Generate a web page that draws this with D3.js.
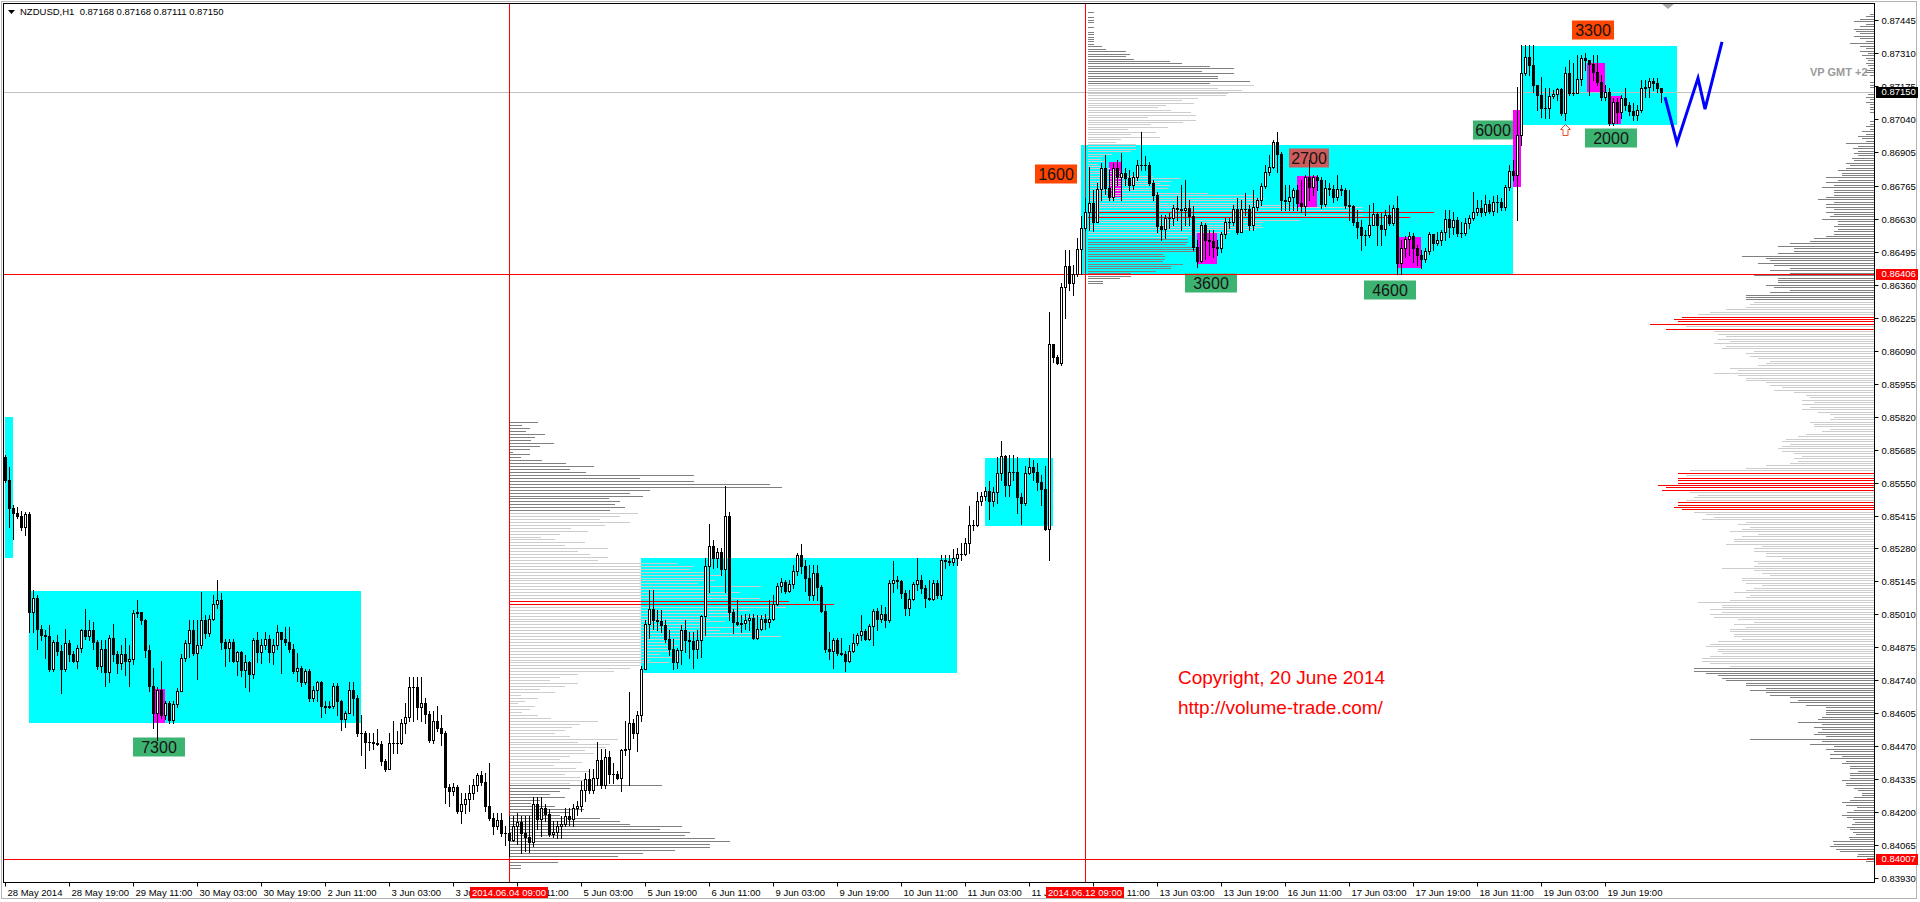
<!DOCTYPE html>
<html>
<head>
<meta charset="utf-8">
<style>
body { margin: 0; background: #fff; }
svg { display: block; }
text { font-family: "Liberation Sans", Arial, sans-serif; }
.header { font-size: 9.5px; white-space: pre; }
</style>
</head>
<body>
<div id="chart"></div>
<script src="https://cdn.jsdelivr.net/npm/d3@7"></script>
<script>
const width = 1920, height = 902;
const plot = { left: 3, top: 3, right: 1874, bottom: 882 };

// NZDUSD H1, 28 May 03:00 .. 20 Jun 09:00, prices in points (0.00001), open = previous close
const firstOpen = 85653;
const closes = [
85559,85444,85424,85411,85366,85420,85018,85079,84952,84924,
84920,84788,84895,84862,84788,84891,84846,84821,84874,84944,
84920,84948,84895,84800,84870,84772,84915,84846,84809,84846,
84821,84829,85014,85018,84985,84866,84718,84604,84702,84596,
84645,84579,84641,84698,84833,84891,84944,84850,84883,84989,
84932,84993,85051,85067,84895,84874,84895,84817,84854,84784,
84813,84764,84903,84854,84883,84911,84854,84883,84936,84911,
84895,84870,84780,84792,84731,84776,84669,84702,84731,84636,
84632,84636,84718,84657,84583,84608,84702,84669,84522,84522,
84489,84489,84485,84481,84411,84378,84485,84485,84485,84563,
84591,84714,84714,84632,84645,84600,84497,84575,84546,84526,
84304,84288,84304,84206,84235,84255,84280,84313,84354,84325,
84227,84177,84141,84169,84116,84116,84087,84145,84161,84116,
84100,84079,84235,84173,84218,84194,84112,84120,84141,84153,
84186,84173,84218,84223,84292,84337,84292,84341,84415,84309,
84424,84358,84358,84341,84456,84460,84563,84526,84596,84788,
84969,85034,84989,84981,84965,84911,84870,84813,84866,84944,
84903,84899,84870,84907,85002,85207,85289,85240,85264,85195,
85411,85018,84977,84969,84973,84989,84997,84915,84952,84993,
84977,84993,85051,85125,85141,85104,85133,85186,85252,85207,
85158,85088,85178,85121,85022,84870,84862,84903,84850,84846,
84821,84862,84891,84924,84940,84911,84961,85022,84993,85010,
84985,85137,85149,85145,85096,85038,85075,85133,85149,85117,
85079,85075,85137,85088,85231,85227,85223,85240,85256,85256,
85301,85375,85375,85473,85494,85514,85473,85510,85588,85657,
85539,85592,85592,85489,85465,85588,85612,85592,85551,85522,
85358,86117,86063,86039,86350,86436,86366,86403,86506,86592,
86658,86694,86617,86752,86838,86756,86719,86838,86801,86818,
86797,86769,86801,86850,86850,86850,86777,86728,86600,86588,
86633,86633,86674,86670,86666,86674,86641,86514,86457,86604,
86543,86539,86514,86510,86567,86617,86617,86670,86576,86670,
86670,86604,86678,86707,86764,86822,86842,86945,86896,86707,
86703,86719,86748,86694,86682,86801,86760,86801,86789,86691,
86756,86752,86719,86752,86748,86686,86682,86617,86596,86563,
86563,86604,86649,86604,86588,86645,86612,86674,86449,86510,
86547,86559,86510,86481,86465,86498,86567,86530,86543,86576,
86629,86596,86625,86572,86572,86612,86633,86658,86674,86658,
86691,86662,86699,86699,86678,86760,86826,86810,86973,87228,
87293,87260,87178,87137,87084,87084,87133,87141,87162,87064,
87228,87146,87146,87203,87289,87281,87264,87232,87191,87129,
87150,87023,87109,87068,87125,87096,87072,87056,87076,87166,
87170,87195,87187,87168,87150];
const highs = [
85661,85612,85457,85448,85432,85428,85428,85108,85088,84965,
84944,84965,84903,84924,84883,84952,84903,84862,84883,84952,
85030,84985,84977,84903,84903,84903,84924,84969,84862,84883,
84915,84883,85026,85067,85018,84993,84883,84792,84714,84821,
84657,84657,84657,84710,84846,84903,84985,84985,84985,85100,
85006,85006,85088,85149,85096,84911,84911,84911,84862,84862,
84842,84821,84915,84936,84911,84936,84924,84911,84965,84932,
84957,84957,84887,84850,84800,84788,84788,84718,84739,84739,
84657,84657,84727,84727,84661,84616,84735,84735,84678,84596,
84534,84526,84526,84542,84493,84419,84526,84575,84534,84583,
84645,84755,84755,84755,84755,84669,84616,84616,84636,84596,
84534,84317,84321,84313,84280,84280,84313,84337,84362,84370,
84362,84403,84198,84198,84198,84145,84186,84186,84198,84186,
84186,84186,84260,84260,84260,84235,84214,84165,84165,84186,
84218,84218,84235,84247,84329,84362,84378,84378,84489,84460,
84460,84452,84403,84370,84460,84575,84694,84583,84616,84800,
84985,85108,85108,85026,85026,84985,84944,84911,84874,84965,
84989,84936,84936,84944,85006,85240,85379,85313,85280,85280,
85534,85428,85034,85067,85006,85010,85010,85010,85006,85006,
85010,85067,85088,85137,85158,85149,85149,85211,85260,85297,
85231,85211,85211,85211,85129,85047,84936,84915,84915,84915,
84862,84883,84928,84932,85006,84952,84969,85034,85038,85047,
85042,85149,85227,85166,85149,85108,85108,85141,85240,85170,
85129,85149,85149,85149,85252,85252,85252,85276,85280,85301,
85322,85453,85395,85510,85510,85530,85555,85530,85653,85719,
85661,85661,85661,85653,85506,85616,85649,85641,85629,85580,
85616,86248,86113,86071,86366,86502,86502,86440,86551,86641,
86715,86842,86748,86777,86859,86891,86830,86859,86871,86900,
86838,86830,86822,86871,86986,86887,86863,86789,86740,86645,
86645,86654,86686,86723,86769,86789,86707,86682,86543,86617,
86612,86584,86584,86543,86576,86633,86633,86686,86715,86707,
86736,86686,86748,86715,86777,86850,86891,86953,86986,86904,
86769,86769,86756,86769,86789,86810,86871,86810,86810,86801,
86789,86777,86769,86810,86769,86756,86748,86686,86666,86625,
86584,86686,86694,86658,86654,86666,86686,86686,86723,86543,
86559,86576,86572,86522,86502,86510,86576,86563,86576,86584,
86666,86666,86658,86637,86617,86633,86645,86740,86707,86707,
86727,86707,86723,86727,86715,86769,86850,86871,87170,87342,
87342,87342,87342,87166,87211,87166,87166,87158,87166,87166,
87252,87281,87269,87301,87301,87310,87273,87301,87301,87219,
87178,87166,87125,87125,87137,87166,87109,87105,87096,87199,
87199,87207,87207,87207,87168];
const lows = [
85551,85366,85317,85403,85354,85334,84936,84936,84870,84903,
84833,84780,84780,84842,84686,84780,84821,84813,84792,84854,
84911,84903,84870,84788,84772,84718,84731,84821,84768,84788,
84760,84718,84805,85000,84969,84837,84698,84546,84497,84587,
84583,84567,84567,84632,84698,84821,84837,84842,84747,84874,
84915,84920,84985,85038,84870,84800,84821,84813,84760,84756,
84714,84698,84751,84813,84809,84870,84813,84805,84870,84768,
84883,84854,84768,84739,84718,84723,84657,84657,84657,84591,
84608,84628,84628,84596,84538,84550,84612,84596,84513,84432,
84382,84456,84460,84473,84391,84370,84378,84444,84444,84477,
84522,84575,84575,84583,84575,84563,84489,84485,84534,84473,
84239,84227,84268,84198,84157,84198,84206,84255,84288,84313,
84206,84169,84112,84132,84104,84067,84022,84083,84071,84034,
84042,84038,84063,84132,84104,84165,84104,84096,84092,84092,
84141,84149,84145,84190,84206,84247,84280,84280,84309,84300,
84300,84321,84321,84337,84288,84432,84313,84505,84452,84575,
84788,84915,84952,84944,84936,84895,84842,84788,84792,84805,
84854,84833,84792,84833,84837,84924,85100,85199,85203,85170,
85100,84985,84932,84965,84936,84952,84944,84911,84911,84944,
84952,84957,84985,85047,85100,85096,85100,85117,85170,85178,
85104,85067,85067,85067,85018,84854,84829,84792,84842,84842,
84780,84813,84854,84883,84903,84903,84903,84883,84944,84977,
84957,84977,85100,85117,85079,85006,85006,85067,85108,85096,
85042,85067,85067,85079,85075,85199,85211,85211,85211,85231,
85252,85260,85354,85371,85457,85477,85399,85453,85465,85559,
85497,85497,85559,85424,85379,85457,85584,85559,85518,85457,
85354,85231,86043,86035,86031,86223,86338,86317,86395,86403,
86584,86584,86580,86617,86707,86732,86707,86707,86769,86707,
86769,86748,86752,86789,86830,86830,86769,86707,86576,86543,
86551,86592,86604,86625,86584,86604,86604,86502,86432,86453,
86465,86481,86473,86481,86494,86551,86592,86604,86567,86604,
86645,86584,86584,86666,86686,86756,86810,86838,86822,86666,
86666,86666,86666,86666,86658,86645,86707,86727,86748,86674,
86682,86727,86699,86707,86727,86674,86625,86604,86551,86502,
86522,86555,86604,86522,86522,86563,86604,86604,86404,86404,
86473,86481,86453,86440,86428,86453,86485,86502,86522,86522,
86543,86555,86567,86559,86555,86563,86592,86625,86645,86641,
86645,86654,86645,86658,86666,86666,86748,86789,86625,86932,
87219,87219,87150,87076,87047,87043,87043,87125,87117,87056,
87035,87137,87137,87178,87178,87240,87137,87199,87178,87117,
87117,87014,87014,87023,87043,87076,87056,87035,87035,87068,
87129,87129,87158,87150,87111];

// time axis: a label every 16 bars
const timeTickBars = d3.range(0, 401, 16);
const timeTickLabels = ['28 May 2014','28 May 19:00','29 May 11:00','30 May 03:00','30 May 19:00','2 Jun 11:00',
  '3 Jun 03:00','3 Jun 19:00','4 Jun 11:00','5 Jun 03:00','5 Jun 19:00','6 Jun 11:00','9 Jun 03:00','9 Jun 19:00',
  '10 Jun 11:00','11 Jun 03:00','11 Jun 19:00','12 Jun 11:00','13 Jun 03:00','13 Jun 19:00','16 Jun 11:00',
  '17 Jun 03:00','17 Jun 19:00','18 Jun 11:00','19 Jun 03:00','19 Jun 19:00'];
const priceTicks = [0.87445,0.87310,0.87175,0.87040,0.86905,0.86765,0.86630,0.86495,0.86360,0.86225,0.86090,
  0.85955,0.85820,0.85685,0.85550,0.85415,0.85280,0.85145,0.85010,0.84875,0.84740,0.84605,0.84470,0.84335,
  0.84200,0.84065,0.83930];

// vertical session lines (bar index) and horizontal levels
const vLineBars = [126, 270];
const vLineLabels = ['2014.06.04 09:00', '2014.06.12 09:00'];
const hLevels = [0.86406, 0.84007];
const bidPrice = 0.87150;

// cyan balance zones: [from bar, to bar], [top, bottom] in points
const zoneBars = [[0, 2], [6, 89], [159, 238], [245, 262], [269, 377], [379, 418]];
const zonePrices = [[85817, 85243], [85104, 84563], [85243, 84768], [85649, 85374], [86933, 86404], [87338, 87015]];
// magenta volume bars
const spikeBars = [[37.25, 40], [276, 279], [298, 303], [323, 328], [348.25, 354], [377, 379], [395.5, 400], [401.25, 404]];
const spikePrices = [[84706, 84563], [86863, 86719], [86576, 86445], [86805, 86678], [86555, 86428], [87076, 86760], [87269, 87150], [87133, 87019]];

// volume labels
const volText = ['7300', '1600', '3600', '2700', '4600', '6000', '3300', '2000'];
const volBar = [38.5, 262.75, 301.5, 326, 346.25, 372, 397, 401.5];
const volPrice = [84466, 86816, 86367, 86879, 86338, 86996, 87406, 86963];
const volKind = ['buy', 'sell', 'buy', 'mid', 'buy', 'buyS', 'sell', 'buy'];

// forecast zigzag
const zigBars = [415, 418, 423.25, 425, 429.25];
const zigPrices = [87129, 86941, 87207, 87080, 87355];

// volume profile from 4 Jun 09:00 (rows every 12 points)
const profATop = 85797, profAStep = 12, profAVaHigh = 85428, profAVaLow = 84313, profARed = [61, 62];
const profAVols = [28,12,20,16,35,25,21,44,30,20, 3,20,11,32,56,84,60,76,184,130,
  184,260,272,140,120,133,99,110,105,115, 100,128,110,90,120,95,61,78,50,31,
  45,75,55,98,68,80,98,88,168,184, 180,200,211,194,205,188,251,200,230,220,
  250,279,324,276,240,225,260,200,215,194, 230,210,250,271,170,165,168,161,165,150,
  170,140,160,130,120,104,68,50,40,68, 55,30,45,11,28,15,8,25,20,12,
  28,41,88,70,62,55,45,60,108,68, 100,96,75,84,60,50,72,44,66,80,
  55,70,84,60,152,60,50,40,55,30, 21,45,74,60,50,90,110,120,172,150,
  180,175,205,220,200,200,165,133,108,96, 48,11,11];
// volume profile from 12 Jun 09:00 (rows every 10 points)
const profBTop = 87477, profBStep = 10, profBVaHigh = 87178, profBVaLow = 86551, profBRed = [82, 84];
const profBVols = [6,0,6,6,6,0,6,0,6,6, 6,6,6,6,14,18,38,42,38,46,
  82,94,122,146,114,146,130,130,162,122, 166,130,154,140,138,110,94,106,78,70,
  83,103,108,60,108,95,63,80,40,68, 43,72,33,28,48,48,48,43,24,15,
  13,17,10,13,22,32,35,65,92,83, 72,82,80,68,120,168,177,172,168,202,
  275,275,346,275,322,212,175,173,175,168, 142,108,100,100,100,98,108,108,108,75,
  77,77,75,95,83,83,68,43,43,32, 15,15];
// whole-range profile on the price scale (rows every 10 points)
const profCTop = 87470, profCStep = 10, profCVaHigh = 86293, profCVaLow = 84797;
const profCRed = [124,125,126,127,129,188,190,191,192,193,194,195,200,201,202,203];
const profCVols = [4,8,14,20,8,14,20,18,14,20, 14,8,24,14,8,14,6,12,8,6,
  8,6,4,8,10,4,0,0,4,4, 4,0,0,6,8,4,8,4,4,4, 4,0,0,0,4,4,8,4,12,8,
  16,12,8,28,16,21,16,20,16,22, 20,28,24,28,36,32,32,48,36,48,
  40,52,40,40,40,48,56,40,48,48, 40,48,40,44,52,36,36,40,36,40,
  40,48,60,64,84,96,80,80,96,132, 108,104,116,100,84,104,84,120,96,96,
  96,108,100,84,104,128,128,128,120,124, 128,148,164,176,192,200,196,224,188,208,
  160,156,148,156,144,160,148,152,120,128, 124,116,104,108,116,144,136,160,136,128,
  128,108,104,92,100,80,68,64,72,60, 72,64,72,56,44,40,44,64,60,60,
  44,52,68,76,88,92,84,92,96,92, 80,72,80,76,84,108,128,184,196,188,
  196,196,196,216,208,212,184,176,180,188, 196,196,200,192,180,168,160,172,128,136,
  124,132,144,116,132,140,140,148,112,120, 120,108,108,92,120,116,120,152,120,112,
  104,132,132,128,112,120,128,140,124,128, 144,176,152,152,164,152,164,160,136,120,
  140,128,144,144,140,140,132,156,164,168, 156,156,152,164,172,172,164,144,180,180,
  168,156,152,148,128,128,108,124,108,104, 84,76,84,68,48,48,48,48,52,56,
  76,52,60,52,56,60,48,124,52,64, 40,48,40,44,32,44,28,32,24,24,
  16,24,24,24,32,28,28,20,16,12, 12,20,24,32,28,17,20,27,32,27,
  21,19,22,27,24,21,18,25,24,41, 40,44,38,34,16,17,7,8];

const labelStyle = {
  buy: { fill: '#3cb371', w: 52 },
  buyS: { fill: '#3cb371', w: 40 },
  sell: { fill: '#ff4500', w: 42 },
  mid: { fill: '#cd5c5c', w: 40 }
};

const xScale = d3.scaleLinear().domain([0, closes.length - 1]).range([5, 1661]);
const yScale = d3.scaleLinear().domain([0.83930, 0.87445]).range([878, 20]);
const volX = d3.scaleLinear().domain([0, 100]).range([0, 100]);
const pt = v => v / 1e5;
const crisp = v => Math.round(v) + 0.5;

const svg = d3.select('#chart').append('svg').attr('width', width).attr('height', height);
svg.append('rect').attr('width', width).attr('height', height).attr('fill', '#fff');
svg.append('defs').append('clipPath').attr('id', 'plotclip').append('rect')
  .attr('x', plot.left).attr('y', plot.top)
  .attr('width', plot.right - plot.left).attr('height', plot.bottom - plot.top);

const g = svg.append('g').attr('clip-path', 'url(#plotclip)');

// cyan zones
g.append('g').selectAll('rect').data(zoneBars).join('rect')
  .attr('x', d => Math.round(xScale(d[0])))
  .attr('width', d => Math.round(xScale(d[1])) - Math.round(xScale(d[0])))
  .attr('y', (d, i) => Math.round(yScale(pt(zonePrices[i][0]))))
  .attr('height', (d, i) => Math.round(yScale(pt(zonePrices[i][1]))) - Math.round(yScale(pt(zonePrices[i][0]))))
  .attr('fill', '#00ffff');

// volume labels
const lab = g.append('g').selectAll('g').data(volText).join('g')
  .attr('transform', (d, i) => `translate(${Math.round(xScale(volBar[i]))},${Math.round(yScale(pt(volPrice[i])))})`);
lab.append('rect')
  .attr('x', (d, i) => -labelStyle[volKind[i]].w / 2).attr('y', -9.5)
  .attr('width', (d, i) => labelStyle[volKind[i]].w).attr('height', 19)
  .attr('fill', (d, i) => labelStyle[volKind[i]].fill);
lab.append('text').text(d => d)
  .attr('text-anchor', 'middle').attr('dy', '0.36em')
  .attr('font-size', 16).attr('fill', '#141414');

// magenta spikes
g.append('g').selectAll('rect').data(spikeBars).join('rect')
  .attr('x', d => Math.round(xScale(d[0])))
  .attr('width', d => Math.round(xScale(d[1])) - Math.round(xScale(d[0])))
  .attr('y', (d, i) => Math.round(yScale(pt(spikePrices[i][0]))))
  .attr('height', (d, i) => Math.round(yScale(pt(spikePrices[i][1]))) - Math.round(yScale(pt(spikePrices[i][0]))))
  .attr('fill', '#ff00ff');

// volume profiles
function drawProfile(top, step, vols, red, vaHigh, vaLow, x0, dir) {
  const rows = vols.map((v, k) => ({ k, p: top - k * step, v })).filter(d => d.v > 0);
  g.append('g').selectAll('line').data(rows).join('line')
    .attr('x1', x0).attr('x2', d => x0 + dir * volX(d.v))
    .attr('y1', d => crisp(yScale(pt(d.p)))).attr('y2', d => crisp(yScale(pt(d.p))))
    .attr('stroke-width', 1)
    .attr('stroke', d => red.includes(d.k) ? '#ff0000'
      : (d.p <= vaHigh && d.p >= vaLow ? '#cdcdcd' : '#808080'));
}
drawProfile(profATop, profAStep, profAVols, profARed, profAVaHigh, profAVaLow, Math.round(xScale(vLineBars[0])) + 1, 1);
drawProfile(profBTop, profBStep, profBVols, profBRed, profBVaHigh, profBVaLow, Math.round(xScale(vLineBars[1])) + 3, 1);
drawProfile(profCTop, profCStep, profCVols, profCRed, profCVaHigh, profCVaLow, plot.right, -1);

// bid line and red levels
g.append('line').attr('x1', plot.left).attr('x2', plot.right)
  .attr('y1', crisp(yScale(bidPrice))).attr('y2', crisp(yScale(bidPrice)))
  .attr('stroke', '#c0c0c0');
g.append('g').selectAll('line').data(hLevels).join('line')
  .attr('x1', plot.left).attr('x2', plot.right)
  .attr('y1', d => crisp(yScale(d))).attr('y2', d => crisp(yScale(d)))
  .attr('stroke', '#ff0000');
g.append('g').selectAll('line').data(vLineBars).join('line')
  .attr('x1', d => crisp(xScale(d))).attr('x2', d => crisp(xScale(d)))
  .attr('y1', plot.top).attr('y2', plot.bottom)
  .attr('stroke', '#ff0000');

// candles
const bars = closes.map((c, i) => {
  const o = i ? closes[i - 1] : firstOpen;
  return { i, o: pt(o), c: pt(c), h: pt(Math.max(highs[i], o, c)), l: pt(Math.min(lows[i], o, c)) };
});
const cg = g.append('g');
cg.selectAll('line').data(bars).join('line')
  .attr('x1', d => crisp(xScale(d.i))).attr('x2', d => crisp(xScale(d.i)))
  .attr('y1', d => Math.round(yScale(d.h))).attr('y2', d => Math.round(yScale(d.l)) + 1)
  .attr('stroke', '#000');
cg.selectAll('rect.bull').data(bars.filter(d => d.c > d.o)).join('rect').attr('class', 'bull')
  .attr('x', d => Math.round(xScale(d.i)) - 0.5)
  .attr('y', d => Math.round(yScale(d.c)) + 0.5)
  .attr('width', 2)
  .attr('height', d => Math.max(0, Math.round(yScale(d.o)) - Math.round(yScale(d.c))))
  .attr('fill', '#fff').attr('stroke', '#000');
cg.selectAll('rect.bear').data(bars.filter(d => d.c <= d.o)).join('rect').attr('class', 'bear')
  .attr('x', d => Math.round(xScale(d.i)) - 1)
  .attr('y', d => Math.round(yScale(d.o)))
  .attr('width', 3)
  .attr('height', d => Math.max(1, Math.round(yScale(d.c)) - Math.round(yScale(d.o)) + 1))
  .attr('fill', '#000');

// forecast zigzag
g.append('path')
  .datum(zigBars.map((b, i) => [xScale(b), yScale(pt(zigPrices[i]))]))
  .attr('d', d3.line())
  .attr('fill', 'none').attr('stroke', '#0000ff').attr('stroke-width', 3);

// small up arrow under the 19 Jun low
{
  const ax = Math.round(xScale(390)), ay = Math.round(yScale(0.87019));
  g.append('path')
    .attr('d', `M${ax + 0.5},${ay + 0.5} l5,5 h-2.5 v6 h-5 v-6 h-2.5 z`)
    .attr('fill', '#fff').attr('stroke', '#e8502a');
}

// copyright
g.append('text').text('Copyright, 20 June 2014')
  .attr('x', xScale(293.25)).attr('y', yScale(0.84723))
  .attr('font-size', 19).attr('fill', '#ff0000');
g.append('text').text('http://volume-trade.com/')
  .attr('x', xScale(293.25)).attr('y', yScale(0.84600))
  .attr('font-size', 19).attr('fill', '#ff0000');

g.append('text').text('VP GMT +2')
  .attr('x', plot.right - 64).attr('y', yScale(0.87215))
  .attr('font-size', 11).attr('font-weight', 'bold').attr('fill', '#9a9a9a');

// chart shift marker
g.append('path').attr('d', 'M1662,4 L1674,4 L1668,9 Z').attr('fill', '#a8a8a8');

// frames
svg.append('rect').attr('x', 1.5).attr('y', 1.5).attr('width', 1915).attr('height', 897)
  .attr('fill', 'none').attr('stroke', '#b4b4b4');
svg.append('rect').attr('x', plot.left + 0.5).attr('y', plot.top + 0.5)
  .attr('width', plot.right - plot.left).attr('height', plot.bottom - plot.top)
  .attr('fill', 'none').attr('stroke', '#000');

// price axis
const yAxis = svg.append('g').attr('transform', `translate(${plot.right + 0.5},0)`)
  .call(d3.axisRight(yScale).tickValues(priceTicks).tickSize(4).tickSizeOuter(0).tickFormat(d3.format('.5f')));
yAxis.select('.domain').remove();
yAxis.attr('font-family', '"Liberation Sans", Arial, sans-serif').attr('font-size', 9.5);
yAxis.selectAll('.tick line').attr('y1', 0).attr('y2', 0);
yAxis.selectAll('.tick').attr('transform', d => `translate(0,${crisp(yScale(d))})`);

// time axis
const xAxis = svg.append('g').attr('transform', `translate(0,${plot.bottom + 0.5})`)
  .call(d3.axisBottom(xScale).tickValues(timeTickBars).tickSize(4).tickSizeOuter(0)
    .tickFormat((d, i) => timeTickLabels[i]));
xAxis.select('.domain').remove();
xAxis.attr('font-family', '"Liberation Sans", Arial, sans-serif').attr('font-size', 9.5);
xAxis.selectAll('.tick').attr('transform', d => `translate(${crisp(xScale(d))},0)`);
xAxis.selectAll('.tick text').attr('text-anchor', 'start').attr('x', 2);

// highlighted price labels
const priceMarks = [[bidPrice, '#000000'], [hLevels[0], '#ff0000'], [hLevels[1], '#ff0000']];
const pm = svg.append('g').selectAll('g').data(priceMarks).join('g')
  .attr('transform', d => `translate(${plot.right + 2},${Math.round(yScale(d[0]))})`);
pm.append('rect').attr('x', 0).attr('y', -5).attr('width', 42).attr('height', 11).attr('fill', d => d[1]);
pm.append('text').text(d => d3.format('.5f')(d[0])).attr('x', 5.5).attr('dy', '0.36em')
  .attr('font-size', 9.5).attr('fill', '#fff');

// highlighted time labels
const tm = svg.append('g').selectAll('g').data(vLineBars).join('g')
  .attr('transform', d => `translate(${Math.round(xScale(d))},${plot.bottom + 5})`);
tm.append('rect').attr('x', -39).attr('y', 0).attr('width', 78).attr('height', 11).attr('fill', '#ff0000');
tm.append('text').text((d, i) => vLineLabels[i]).attr('text-anchor', 'middle').attr('y', 9)
  .attr('font-size', 9.5).attr('fill', '#fff');

// header
svg.append('path').attr('d', 'M8,10 L15,10 L11.5,14 Z').attr('fill', '#000');
svg.append('text').attr('class', 'header').attr('x', 20).attr('y', 15)
  .text('NZDUSD,H1  0.87168 0.87168 0.87111 0.87150');
</script>
</body>
</html>
